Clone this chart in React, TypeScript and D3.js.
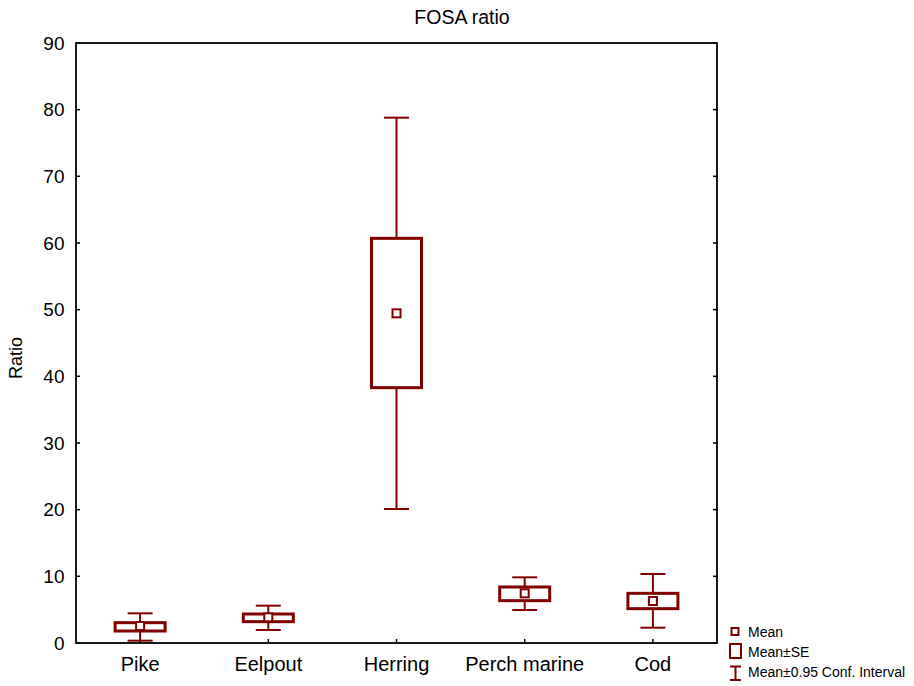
import React from "react";
import * as d3 from "d3";

// FOSA ratio by species: mean, ±SE and ±0.95 confidence interval
const categories = ["Pike", "Eelpout", "Herring", "Perch marine", "Cod"];
const means = [2.55, 3.85, 49.45, 7.45, 6.3];
const seLow = [1.8, 3.2, 38.3, 6.35, 5.15];
const seHigh = [3.05, 4.35, 60.7, 8.4, 7.45];
const ciLow = [0.35, 1.95, 20.1, 4.95, 2.3];
const ciHigh = [4.45, 5.6, 78.8, 9.85, 10.35];
const yTicks = [0, 10, 20, 30, 40, 50, 60, 70, 80, 90];
const legendLabels = ["Mean", "Mean±SE", "Mean±0.95 Conf. Interval"];

const W = 914;
const H = 686;
const left = 76;
const right = 717;
const top = 43;
const bottom = 643;
const color = "#800000";
const font = "'Liberation Sans', Arial, sans-serif";

export default function App() {
  const x = d3.scaleBand<string>().domain(categories).range([left, right]).padding(0);
  const y = d3.scaleLinear().domain([0, 90]).range([bottom, top]);
  const boxW = 50;
  const capW = 25;
  const markS = 8;

  return (
    <svg
      width={W}
      height={H}
      style={{ position: "absolute", left: 0, top: 0, background: "#fff" }}
      fontFamily={font}
    >
      <text x={462} y={23.5} textAnchor="middle" fontSize={19.5} fill="#000">
        FOSA ratio
      </text>
      <text
        transform={`translate(22, ${(top + bottom) / 2 + 15}) rotate(-90)`}
        textAnchor="middle"
        fontSize={18}
        fill="#000"
      >
        Ratio
      </text>

      {/* y ticks, inward on both sides */}
      {yTicks.map((t) => (
        <g key={t}>
          <line x1={left} x2={left + 4} y1={y(t)} y2={y(t)} stroke="#000" strokeWidth={1.5} />
          <line x1={right - 4} x2={right} y1={y(t)} y2={y(t)} stroke="#000" strokeWidth={1.5} />
          <text x={64.5} y={y(t) + 6.5} textAnchor="end" fontSize={19} fill="#000">
            {t}
          </text>
        </g>
      ))}

      {/* category ticks and labels */}
      {categories.map((c) => {
        const cx = x(c)! + x.bandwidth() / 2;
        return (
          <g key={c}>
            <line x1={cx} x2={cx} y1={bottom} y2={bottom - 4} stroke="#000" strokeWidth={1.5} />
            <text x={cx} y={671} textAnchor="middle" fontSize={20} fill="#000">
              {c}
            </text>
          </g>
        );
      })}

      {/* whiskers, boxes and mean markers */}
      {categories.map((c, i) => {
        const cx = x(c)! + x.bandwidth() / 2;
        return (
          <g key={c}>
            <line x1={cx} x2={cx} y1={y(ciHigh[i])} y2={y(seHigh[i])} stroke={color} strokeWidth={2} />
            <line x1={cx} x2={cx} y1={y(seLow[i])} y2={y(ciLow[i])} stroke={color} strokeWidth={2} />
            <line x1={cx - capW / 2} x2={cx + capW / 2} y1={y(ciHigh[i])} y2={y(ciHigh[i])} stroke={color} strokeWidth={2} />
            <line x1={cx - capW / 2} x2={cx + capW / 2} y1={y(ciLow[i])} y2={y(ciLow[i])} stroke={color} strokeWidth={2} />
            <rect
              x={cx - boxW / 2}
              y={y(seHigh[i])}
              width={boxW}
              height={y(seLow[i]) - y(seHigh[i])}
              fill="#fff"
              stroke={color}
              strokeWidth={3}
            />
            <rect
              x={cx - markS / 2}
              y={y(means[i]) - markS / 2}
              width={markS}
              height={markS}
              fill="#fff"
              stroke={color}
              strokeWidth={2}
            />
          </g>
        );
      })}

      {/* plot frame */}
      <rect x={left} y={top} width={right - left} height={bottom - top} fill="none" stroke="#000" strokeWidth={1.8} />

      {/* legend */}
      <g>
        <rect x={731.5} y={628} width={7} height={7} fill="#fff" stroke={color} strokeWidth={2} />
        <text x={748} y={636.5} fontSize={14} fill="#000">{legendLabels[0]}</text>
        <rect x={730} y={644} width={11} height={14} fill="#fff" stroke={color} strokeWidth={2} />
        <text x={748} y={656.5} fontSize={14} fill="#000">{legendLabels[1]}</text>
        <line x1={735.5} x2={735.5} y1={666.5} y2={680} stroke={color} strokeWidth={2} />
        <line x1={730} x2={741} y1={666.5} y2={666.5} stroke={color} strokeWidth={2} />
        <line x1={730} x2={741} y1={680} y2={680} stroke={color} strokeWidth={2} />
        <text x={748} y={676.5} fontSize={14} fill="#000">{legendLabels[2]}</text>
      </g>
    </svg>
  );
}
